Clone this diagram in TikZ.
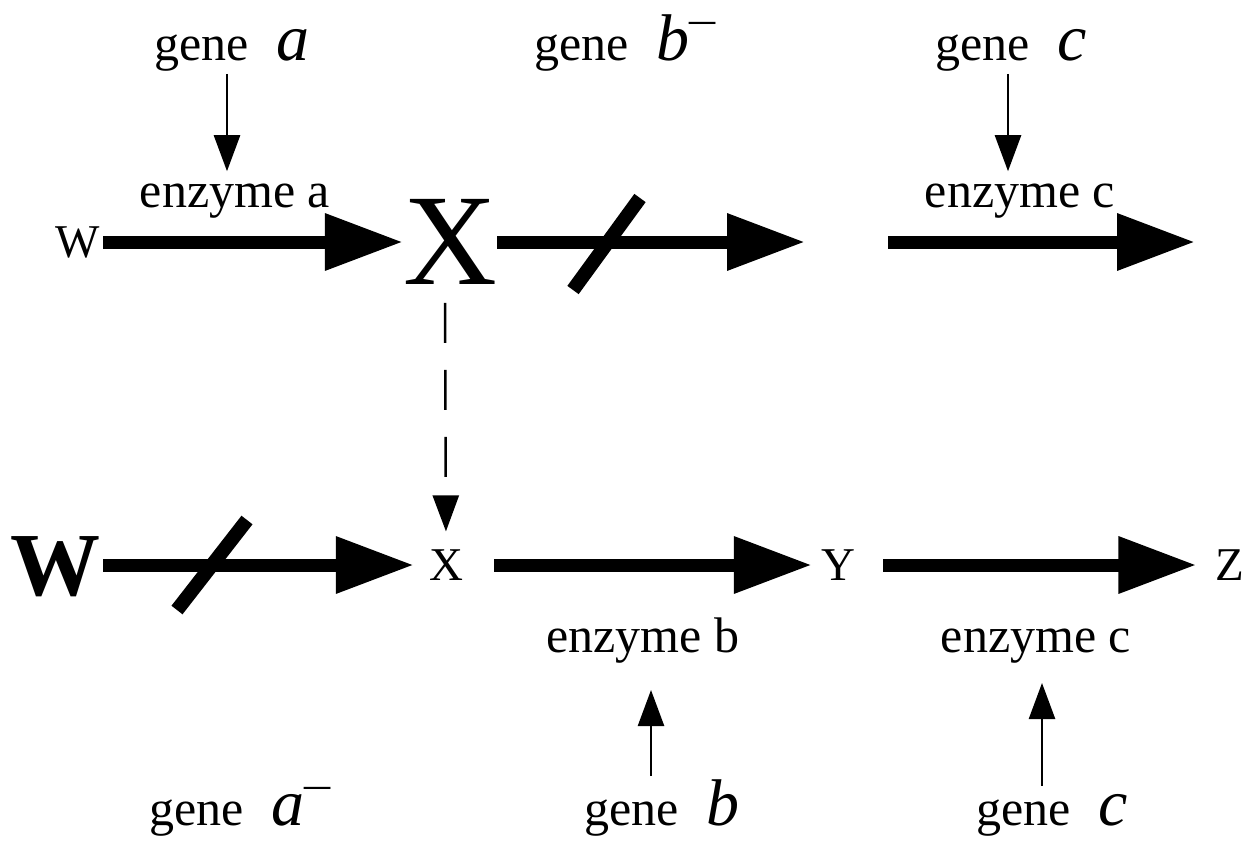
\documentclass[tikz,border=0pt]{standalone}
\usepackage{fontspec}
\setmainfont{Liberation Serif}
\usetikzlibrary{arrows.meta, positioning}

\newcommand{\genename}[1]{gene\hspace{28pt}{\fontsize{66}{66}\selectfont\itshape #1}}
\newcommand{\minussign}{\raisebox{27pt}{\scalebox{1.45}[1.2]{\fontsize{36}{36}\selectfont\textendash}}}

\tikzset{
  lbl/.style={inner sep=0pt, anchor=base, font=\fontsize{50}{60}\selectfont},
  chem/.style={inner sep=3pt, font=\fontsize{47}{55}\selectfont},
  flow/.style={line width=13pt, -{Triangle[length=78pt, width=54pt]}},
  induce/.style={line width=2.5pt, -{Triangle[length=36pt, width=26pt]}},
  block/.style={line width=14pt},
}

\begin{document}
\begin{tikzpicture}[x=1pt, y=-1pt]
  \fill[white] (0,0) rectangle (1245,841);
  \useasboundingbox (0,0) rectangle (1245,841);

  % pathway with gene b knocked out
  \node[chem] (w1) at (78,242) {W};
  \node[inner sep=0pt, font=\fontsize{130}{130}\selectfont] (x1) at (450,242) {X};
  \coordinate (gapY) at (805,242);
  \coordinate (cstart) at (888,242);
  \coordinate (cend) at (1195,242);

  \node[lbl] (enza) at (235,207) {enzyme a};
  \node[lbl] (enzc1) at (1020,207) {enzyme c};
  \node[lbl] (genea) at (232,60) {\genename{a}};
  \node[lbl] (genebm) at (625,60) {\genename{b}\minussign};
  \node[lbl] (genec1) at (1011,60) {\genename{c}};

  \draw[flow] (w1) -- (x1);
  \draw[flow] (x1.east) -- (gapY);
  \draw[flow] (cstart) -- (cend);
  \draw[block] (573,290) -- (640,198);

  \draw[induce, shorten <=3pt, shorten >=12pt] ([xshift=-5pt]genea.south) -- ([xshift=-8pt]enza.north);
  \draw[induce, shorten <=3pt, shorten >=12pt] ([xshift=-3pt]genec1.south) -- ([xshift=-12pt]enzc1.north);

  % pathway with gene a knocked out
  \node[inner sep=0pt, font=\bfseries\fontsize{90}{90}\selectfont] (w2) at (55,567) {W};
  \node[chem] (x2) at (446,565) {X};
  \node[chem] (y2) at (838,565) {Y};
  \node[chem] (z2) at (1230,565) {Z};

  \node[lbl] (enzb) at (643,652) {enzyme b};
  \node[lbl] (enzc2) at (1036,652) {enzyme c};
  \node[lbl] (geneam) at (240,825) {\genename{a}\minussign};
  \node[lbl] (geneb) at (662,825) {\genename{b}};
  \node[lbl] (genec2) at (1052,825) {\genename{c}};

  \draw[flow, shorten <=3pt, shorten >=12pt] (w2.east |- x2) -- (x2);
  \draw[flow, shorten <=28pt, shorten >=6pt] (x2) -- (y2);
  \draw[flow, shorten <=25pt, shorten >=16pt] (y2) -- (z2);
  \draw[block] (177,610) -- (247,520);

  \draw[induce, shorten <=3pt, shorten >=27pt] ([xshift=-11pt]geneb.north) -- ([xshift=8pt]enzb.south);
  \draw[induce, shorten <=8pt, shorten >=20pt] ([xshift=-10pt]genec2.north) -- ([xshift=6pt]enzc2.south);

  % X taken up from outside
  \draw[induce, dash pattern=on 40pt off 27pt, shorten <=18pt, shorten >=15pt] ([xshift=-5pt]x1.south) -- (x2.north);
\end{tikzpicture}
\end{document}
